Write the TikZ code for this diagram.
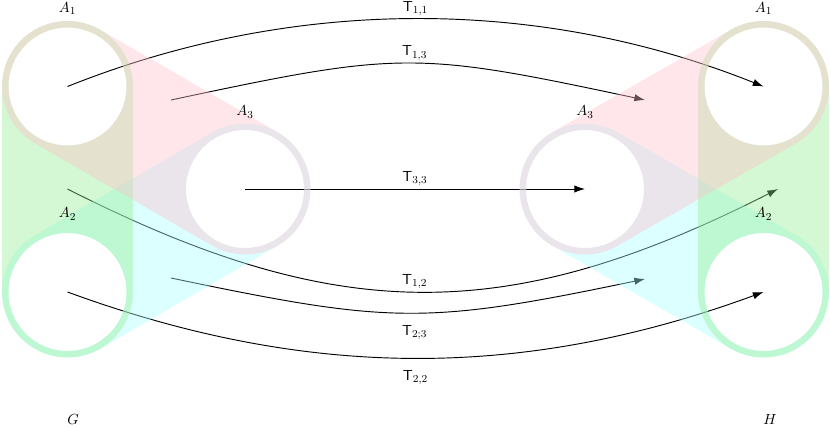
\documentclass[tikz,border=0pt]{standalone}
\usepackage{amsmath}
\usepackage{amssymb}
\usepackage{xcolor}
\usepackage{tikz}
\usetikzlibrary{calc,arrows.meta}

\definecolor{bandpink}{RGB}{255,192,203}
\definecolor{bandgreen}{RGB}{144,238,144}
\definecolor{bandcyan}{RGB}{167,255,255}

\newcommand{\bandw}{65.5}
\newcommand{\holer}{59}
% band round two centres (x1,y1) and (x2,y2), both discs left open
\newcommand{\band}[5]{%
  \pgfmathsetmacro\bandang{atan2(#5-#3,#4-#2)}%
  \pgfmathsetmacro\bandA{\bandang+90}%
  \pgfmathsetmacro\bandB{\bandang+270}%
  \pgfmathsetmacro\bandC{\bandang-90}%
  \fill[#1,fill opacity=0.4,even odd rule]
    plot[domain=\bandA:\bandB,samples=61] ({#2+\bandw*cos(\x)},{#3+\bandw*sin(\x)})
    -- plot[domain=\bandC:\bandA,samples=61] ({#4+\bandw*cos(\x)},{#5+\bandw*sin(\x)})
    -- cycle
    (#2,#3) circle[radius=\holer] (#4,#5) circle[radius=\holer];}

\begin{document}
\begin{tikzpicture}[x=0.75pt,y=0.75pt,yscale=-1,xscale=1,
  font=\fontsize{11pt}{13pt}\selectfont,
  tarrow/.style={line width=0.7pt,-{Latex[length=8pt,width=5.5pt]}},
  tup/.style={midway,above,inner sep=2pt},
  tdown/.style={midway,below=7pt,inner sep=2pt}]
\useasboundingbox (0,0) rectangle (830,427);

% centres of A_1, A_2, A_3 in G and in H
\coordinate (G1) at (67.5,86.5);
\coordinate (G2) at (67.5,292);
\coordinate (G3) at (245,189);
\coordinate (H1) at (763.5,86.5);
\coordinate (H2) at (763.5,292);
\coordinate (H3) at (585,189);
% ends of the arrows between the bands
\coordinate (G13) at (171,100);
\coordinate (H13) at (645,100);
\coordinate (G12) at (67.5,189);
\coordinate (H12) at (778,189);
\coordinate (G23) at (171,278);
\coordinate (H23) at (645,279);

%Curve Lines
\draw[tarrow] (G1) .. controls ($(G1)+(225,-90)$) and ($(H1)+(-225,-90)$) .. (H1) node[tup] (t11) {$\mathsf{T}_{1,1}$};
%Curve Lines
\draw[tarrow] (G13) .. controls ($(G13)+(230,-49)$) and ($(H13)+(-230,-49)$) .. (H13) node[tup,xshift=5pt] (t13) {$\mathsf{T}_{1,3}$};
%Straight Lines
\draw[tarrow] (G3) -- (H3) node[tup] (t33) {$\mathsf{T}_{3,3}$};
%Curve Lines
\draw[tarrow] (G12) .. controls ($(G12)+(270,137)$) and ($(H12)+(-270,137)$) .. (H12) node[tup,xshift=-6pt] (t12) {$\mathsf{T}_{1,2}$};
%Curve Lines
\draw[tarrow] (G23) .. controls ($(G23)+(220,46)$) and ($(H23)+(-220,46)$) .. (H23) node[tdown,xshift=5pt] (t23) {$\mathsf{T}_{2;3}$};
%Curve Lines
\draw[tarrow] (G2) .. controls ($(G2)+(240,88)$) and ($(H2)+(-240,88)$) .. (H2) node[tdown] (t22) {$\mathsf{T}_{2,2}$};

%Shape: bands of G
\band{bandcyan}{67.5}{292}{245}{189}
\band{bandgreen}{67.5}{86.5}{67.5}{292}
\band{bandpink}{67.5}{86.5}{245}{189}
%Shape: bands of H
\band{bandcyan}{763.5}{292}{585}{189}
\band{bandgreen}{763.5}{86.5}{763.5}{292}
\band{bandpink}{763.5}{86.5}{585}{189}

% Text Node
\node (a1g) at ($(G1)+(0,-78)$) {$A_1$};
% Text Node
\node (a2g) at ($(G2)+(0,-78)$) {$A_2$};
% Text Node
\node (a3g) at ($(G3)+(0,-77)$) {$A_3$};
% Text Node
\node (a1h) at ($(H1)+(0,-78)$) {$A_1$};
% Text Node
\node (a2h) at ($(H2)+(0,-78)$) {$A_2$};
% Text Node
\node (a3h) at ($(H3)+(0,-77)$) {$A_3$};
% Text Node
\node (g) at (73,420) {$G$};
% Text Node
\node (h) at (770,420) {$H$};

\end{tikzpicture}
\end{document}
